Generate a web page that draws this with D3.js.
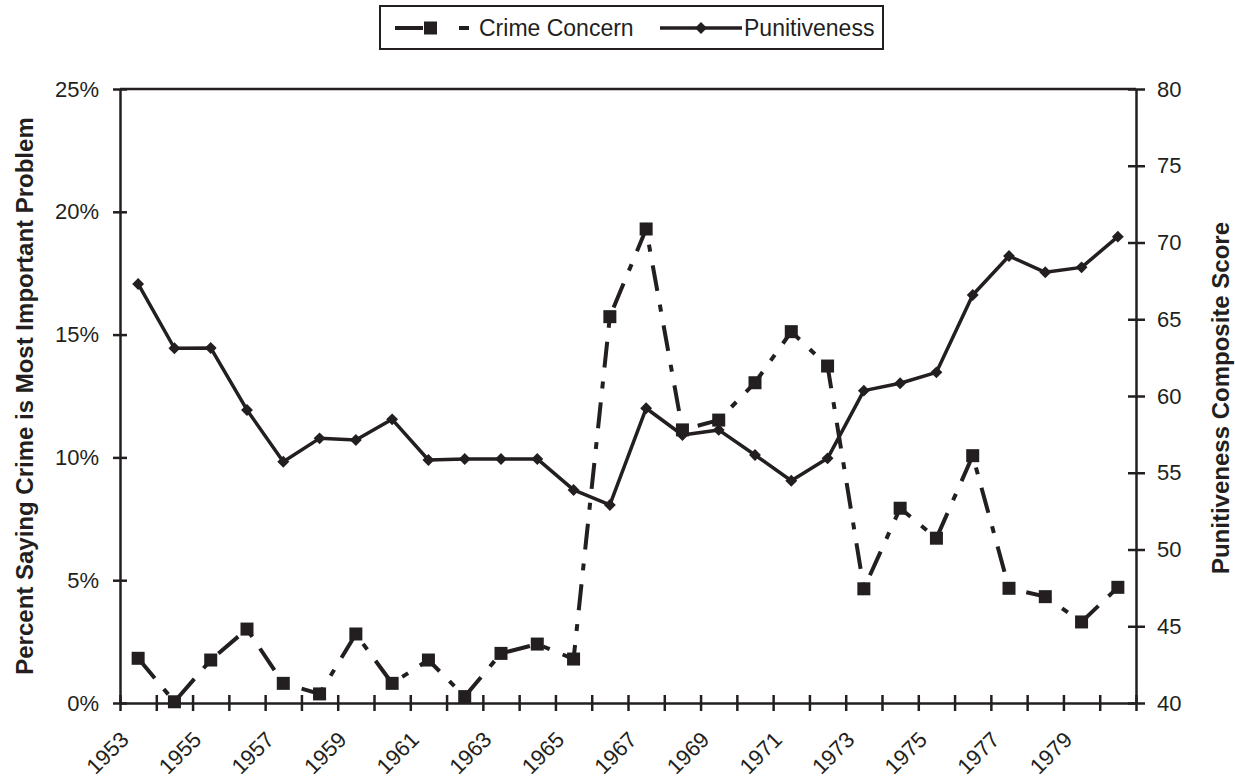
<!DOCTYPE html>
<html>
<head>
<meta charset="utf-8">
<script src="https://cdn.jsdelivr.net/npm/d3@7/dist/d3.min.js"></script>
<style>
  html, body { margin: 0; padding: 0; background: #fff; }
  svg { display: block; font-family: "Liberation Sans", Arial, sans-serif; }
</style>
</head>
<body>
<svg id="chart" width="1235" height="782"></svg>
<script>
const years = [1953,1954,1955,1956,1957,1958,1959,1960,1961,1962,1963,1964,1965,1966,
               1967,1968,1969,1970,1971,1972,1973,1974,1975,1976,1977,1978,1979,1980];
const crimeConcern = [1.82,0.05,1.75,3.01,0.80,0.37,2.81,0.80,1.75,0.26,2.02,2.40,1.79,15.73,
                      19.30,11.12,11.52,13.04,15.12,13.72,4.65,7.93,6.71,10.07,4.67,4.33,3.30,4.71];
const punitiveness = [67.30,63.11,63.13,59.09,55.72,57.24,57.13,58.48,55.83,55.90,55.90,55.90,53.88,52.90,
                      59.20,57.46,57.79,56.16,54.48,55.94,60.35,60.83,61.54,66.58,69.12,68.06,68.38,70.38];
const leftTicks = [0,5,10,15,20,25];
const rightTicks = [40,45,50,55,60,65,70,75,80];
const xLabelYears = [1953,1955,1957,1959,1961,1963,1965,1967,1969,1971,1973,1975,1977,1979];
const seriesNames = ["Crime Concern", "Punitiveness"];
const leftTitle = "Percent Saying Crime is Most Important Problem";
const rightTitle = "Punitiveness Composite Score";

const svg = d3.select("#chart");
const L = 120, R = 1136, T = 89, B = 703;
const ink = "#231f20";

const x = d3.scaleBand().domain(years).range([L, R]).padding(0);
const xEdge = d3.scaleLinear().domain([0, years.length]).range([L, R]);
const yL = d3.scaleLinear().domain([0, 25]).range([B, T]);
const yR = d3.scaleLinear().domain([40, 80]).range([B, T]);
const cx = d => x(d) + x.bandwidth() / 2;

// frame top line
svg.append("line").attr("x1", L).attr("x2", R).attr("y1", T).attr("y2", T)
  .attr("stroke", ink).attr("stroke-width", 2.5);

// left axis
const gL = svg.append("g").attr("transform", `translate(${L},0)`)
  .call(d3.axisLeft(yL).tickValues(leftTicks).tickFormat(d => d + "%").tickSizeOuter(0).tickSizeInner(7).tickPadding(14));
gL.selectAll(".tick line").attr("x2", -7).attr("x1", 7);

// right axis
const gR = svg.append("g").attr("transform", `translate(${R},0)`)
  .call(d3.axisRight(yR).tickValues(rightTicks).tickSizeOuter(0).tickSizeInner(9).tickPadding(12));
gR.selectAll(".tick line").attr("x1", -8).attr("x2", 9);

// bottom axis: tick marks at category edges
const gB = svg.append("g").attr("transform", `translate(0,${B})`)
  .call(d3.axisBottom(xEdge).tickValues(d3.range(years.length + 1)).tickFormat("").tickSizeOuter(0).tickSizeInner(8));
gB.selectAll(".tick line").attr("y1", -8).attr("y2", 8);

// bottom labels
const gBL = svg.append("g").attr("transform", `translate(0,${B})`)
  .call(d3.axisBottom(x).tickValues(xLabelYears).tickSize(0).tickPadding(0));
gBL.select(".domain").remove();
gBL.selectAll(".tick text")
  .attr("text-anchor", "end")
  .attr("dy", 0)
  .attr("y", 0)
  .attr("transform", "translate(-8,38) rotate(-45)");

[gL, gR, gB, gBL].forEach(g => {
  g.selectAll(".domain").attr("stroke", ink).attr("stroke-width", 2.5);
  g.selectAll(".tick line").attr("stroke", ink).attr("stroke-width", 2.5);
  g.selectAll(".tick text").attr("fill", ink).style("font-size", "22px").style("font-family", '"Liberation Sans", Arial, sans-serif');
});

// axis titles
svg.append("text")
  .attr("transform", `translate(33,${(T + B) / 2}) rotate(-90)`)
  .attr("text-anchor", "middle").attr("fill", ink)
  .style("font-size", "24px").style("font-weight", "bold")
  .text(leftTitle);
svg.append("text")
  .attr("transform", `translate(1229,${(T + B) / 2 + 2}) rotate(-90)`)
  .attr("text-anchor", "middle").attr("fill", ink)
  .style("font-size", "24px").style("font-weight", "bold")
  .text(rightTitle);

const dash = "26,14,7,14";

// punitiveness line (right axis)
const lineP = d3.line().x((d, i) => cx(years[i])).y(d => yR(d));
svg.append("path").datum(punitiveness).attr("d", lineP)
  .attr("fill", "none").attr("stroke", ink).attr("stroke-width", 3.5).attr("stroke-linejoin", "round");
const diamond = d3.symbol().type(d3.symbolDiamond2).size(90);
svg.append("g").selectAll("path").data(punitiveness).join("path")
  .attr("d", diamond)
  .attr("transform", (d, i) => `translate(${cx(years[i])},${yR(d)})`)
  .attr("fill", ink);

// crime concern line (left axis)
const lineC = d3.line().x((d, i) => cx(years[i])).y(d => yL(d));
svg.append("path").datum(crimeConcern).attr("d", lineC)
  .attr("fill", "none").attr("stroke", ink).attr("stroke-width", 4).attr("stroke-dasharray", dash);
svg.append("g").selectAll("rect").data(crimeConcern).join("rect")
  .attr("x", (d, i) => cx(years[i]) - 6.5).attr("y", d => yL(d) - 6.5)
  .attr("width", 13).attr("height", 13).attr("fill", ink);

// legend
const lg = svg.append("g");
lg.append("rect").attr("x", 380).attr("y", 6).attr("width", 503).attr("height", 43)
  .attr("fill", "#fff").attr("stroke", ink).attr("stroke-width", 2);
lg.append("line").attr("x1", 395).attr("x2", 470).attr("y1", 28).attr("y2", 28)
  .attr("stroke", ink).attr("stroke-width", 4).attr("stroke-dasharray", "28,36,10,20");
lg.append("rect").attr("x", 424).attr("y", 21.5).attr("width", 13).attr("height", 13).attr("fill", ink);
lg.append("text").attr("x", 479).attr("y", 36).attr("fill", ink).style("font-size", "23px").text(seriesNames[0]);
lg.append("line").attr("x1", 660).attr("x2", 742).attr("y1", 28).attr("y2", 28)
  .attr("stroke", ink).attr("stroke-width", 3.5);
lg.append("path").attr("d", diamond).attr("transform", "translate(701,28)").attr("fill", ink);
lg.append("text").attr("x", 744).attr("y", 36).attr("fill", ink).style("font-size", "23px").text(seriesNames[1]);
</script>
</body>
</html>
